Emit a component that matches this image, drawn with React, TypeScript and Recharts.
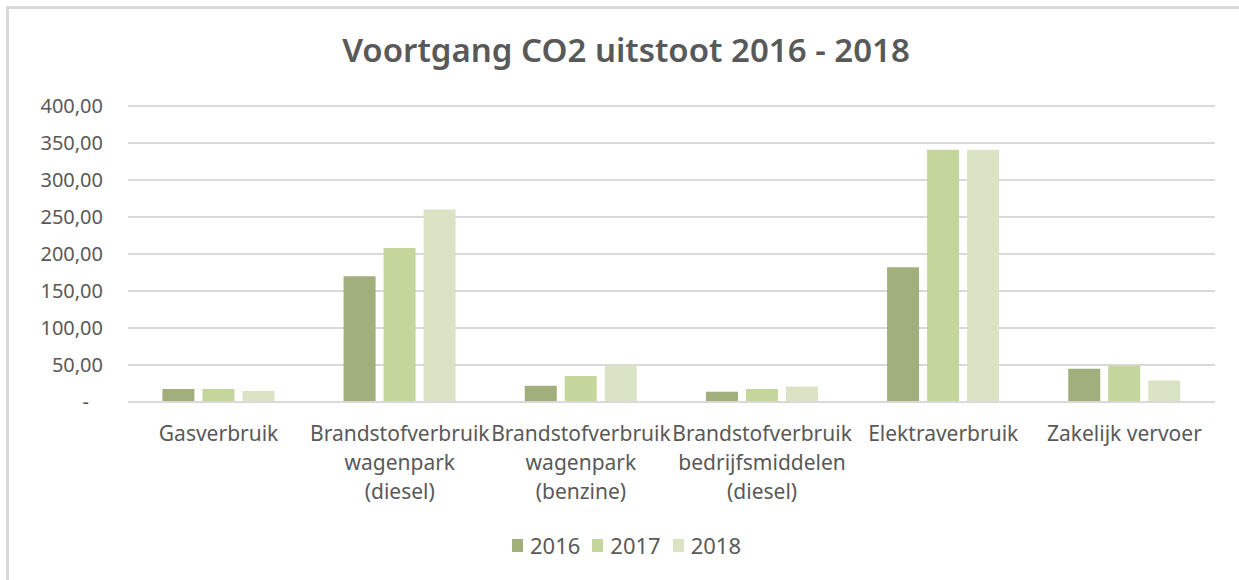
import React from "react";
import {
  BarChart,
  Bar,
  XAxis,
  YAxis,
  CartesianGrid,
  Legend,
} from "recharts";

const categories = [
  "Gasverbruik",
  "Brandstofverbruik\nwagenpark\n(diesel)",
  "Brandstofverbruik\nwagenpark\n(benzine)",
  "Brandstofverbruik\nbedrijfsmiddelen\n(diesel)",
  "Elektraverbruik",
  "Zakelijk vervoer",
];

const values2016 = [17.5, 170, 22, 14, 182, 45];
const values2017 = [17.5, 208, 35, 17.5, 341, 49];
const values2018 = [15, 260, 50, 21, 341, 29];

const yTicks = [0, 50, 100, 150, 200, 250, 300, 350, 400];

const SERIES = [
  { key: "2016", color: "#A0AF7C" },
  { key: "2017", color: "#C4D69B" },
  { key: "2018", color: "#DAE4C5" },
];

const data = categories.map((name, i) => ({
  name,
  "2016": values2016[i],
  "2017": values2017[i],
  "2018": values2018[i],
}));

const FONT = "'Noto Sans', sans-serif";
const TEXT = "#595959";
const GRID = "#d9d9d9";

function formatTick(v: number) {
  return v.toFixed(2).replace(".", ",");
}

function YTick({ x, y, payload }: any) {
  const v = payload.value as number;
  if (v === 0) {
    return (
      <text x={x - 14} y={y} dy="0.35em" textAnchor="end" fill={TEXT} fontSize={20} fontFamily={FONT}>
        -
      </text>
    );
  }
  return (
    <text x={x} y={y} dy="0.35em" textAnchor="end" fill={TEXT} fontSize={20} fontFamily={FONT}>
      {formatTick(v)}
    </text>
  );
}

function XTick({ x, y, payload }: any) {
  const lines = String(payload.value).split("\n");
  return (
    <text x={x} y={y} textAnchor="middle" fill={TEXT} fontSize={21} fontFamily={FONT}>
      {lines.map((line, i) => (
        <tspan key={i} x={x} dy={i === 0 ? "0.71em" : 29}>
          {line}
        </tspan>
      ))}
    </text>
  );
}

function LegendContent({ payload }: any) {
  return (
    <div
      style={{
        display: "flex",
        justifyContent: "center",
        alignItems: "center",
        height: 26,
        paddingLeft: 50,
        fontFamily: FONT,
        fontSize: 22,
        color: TEXT,
      }}
    >
      {(payload || []).map((p: any) => (
        <div key={p.value} style={{ display: "flex", alignItems: "center", marginRight: 12 }}>
          <span style={{ width: 11, height: 13, background: p.color, marginRight: 7, display: "inline-block" }} />
          <span>{p.value}</span>
        </div>
      ))}
    </div>
  );
}

export default function App() {
  return (
    <div style={{ position: "absolute", left: 0, top: 0, width: 1239, height: 580, background: "#fff", overflow: "hidden" }}>
      <div
        style={{
          position: "absolute",
          left: 6,
          top: 6,
          width: 1239,
          height: 580,
          borderTop: `3px solid ${GRID}`,
          borderLeft: `3px solid ${GRID}`,
        }}
      />
      <div
        style={{
          position: "absolute",
          left: 13,
          top: 27,
          width: 1226,
          textAlign: "center",
          fontFamily: FONT,
          fontWeight: 600,
          fontSize: 33,
          color: TEXT,
          lineHeight: "46px",
        }}
      >
        Voortgang CO2 uitstoot 2016 - 2018
      </div>
      <div style={{ position: "absolute", left: 0, top: 0 }}>
        <BarChart
          width={1239}
          height={580}
          data={data}
          margin={{ top: 106, right: 24, left: 0, bottom: 22 }}
          barCategoryGap="19%"
          barGap={8}
        >
          <CartesianGrid vertical={false} stroke={GRID} strokeWidth={2} />
          <XAxis
            dataKey="name"
            height={130}
            interval={0}
            axisLine={{ stroke: GRID, strokeWidth: 2 }}
            tickLine={false}
            tickSize={0}
            tickMargin={24}
            tick={<XTick />}
          />
          <YAxis
            width={128}
            domain={[0, 400]}
            ticks={yTicks}
            axisLine={false}
            tickLine={false}
            tickSize={0}
            tickMargin={25}
            tick={<YTick />}
          />
          <Legend verticalAlign="bottom" content={<LegendContent />} />
          {SERIES.map((s) => (
            <Bar key={s.key} dataKey={s.key} fill={s.color} isAnimationActive={false} />
          ))}
        </BarChart>
      </div>
    </div>
  );
}
